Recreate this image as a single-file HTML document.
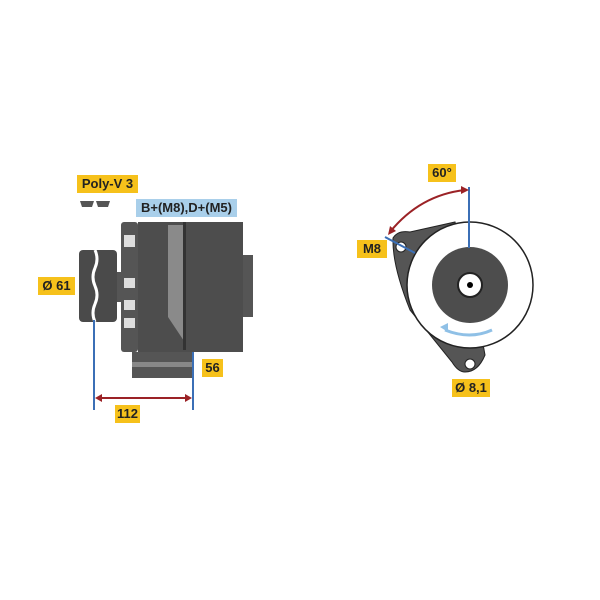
<!DOCTYPE html>
<html><head><style>
body{margin:0;background:#fff;}
.l{position:absolute;background:#f6c11b;font:bold 13px "Liberation Sans",sans-serif;color:#222;line-height:18px;text-align:center;}
</style></head><body>
<div style="position:relative;width:600px;height:600px;overflow:hidden">
<svg width="600" height="600" style="position:absolute;left:0;top:0">
<!-- pulley icons -->
<path d="M80,201 h14 l-2,6 h-10z M96,201 h14 l-2,6 h-10z" fill="#555"/>
<!-- pulley -->
<rect x="79" y="250" width="38" height="72" rx="4" fill="#4a4a4a"/>
<rect x="117" y="272" width="6" height="30" fill="#555"/>
<path d="M95,250 q4,9 0,18 q-4,9 0,18 q4,9 0,18 q-4,9 0,18" stroke="#fff" stroke-width="3" fill="none"/>
<!-- fan ribs -->
<rect x="121" y="222" width="17" height="130" rx="3" fill="#555"/>
<g fill="#ddd"><rect x="124" y="235" width="11" height="12"/><rect x="124" y="278" width="11" height="10"/><rect x="124" y="300" width="11" height="10"/><rect x="124" y="318" width="11" height="10"/></g>
<!-- body -->
<rect x="138" y="222" width="105" height="130" fill="#4d4d4d"/>
<path d="M168,225 h15 v120 h-15 z" fill="#8a8a8a"/>
<path d="M138,222 h30 v95 l22,33 v2 h-52z" fill="#4d4d4d"/>
<rect x="183" y="222" width="3" height="128" fill="#333"/>
<rect x="243" y="255" width="10" height="62" fill="#555"/>
<rect x="132" y="352" width="61" height="26" fill="#555"/>
<rect x="132" y="362" width="61" height="5" fill="#888"/>
<!-- dims -->
<line x1="94" y1="320" x2="94" y2="410" stroke="#3b6fb6" stroke-width="2"/>
<line x1="193" y1="352" x2="193" y2="410" stroke="#3b6fb6" stroke-width="2"/>
<line x1="98" y1="398" x2="189" y2="398" stroke="#9b2226" stroke-width="2"/>
<path d="M95,398 l7,-4 v8z M192,398 l-7,-4 v8z" fill="#9b2226"/>
<!-- right view -->
<path d="M393,238 Q398,230 410,232 L455,222 L475,300 L485,355 Q478,372 465,372 Q458,372 452,362 L410,310 Q392,265 393,238z" fill="#555" stroke="#222"/>
<circle cx="470" cy="285" r="63" fill="#fff" stroke="#222" stroke-width="1.5"/>
<circle cx="470" cy="285" r="38" fill="#4d4d4d"/>
<circle cx="470" cy="285" r="12" fill="#fff" stroke="#222" stroke-width="2"/>
<circle cx="470" cy="285" r="3" fill="#000"/>
<circle cx="401" cy="247" r="5" fill="#fff" stroke="#222"/>
<circle cx="470" cy="364" r="5" fill="#fff" stroke="#222"/>
<line x1="469" y1="187" x2="469" y2="248" stroke="#3b6fb6" stroke-width="2"/>
<line x1="385" y1="237" x2="415" y2="253" stroke="#3b6fb6" stroke-width="2"/>
<path d="M465,190 Q420,195 390,232" stroke="#9b2226" stroke-width="2" fill="none"/>
<path d="M469,190 l-8,-4 v8z M388,235 l2,-9 6,5z" fill="#9b2226"/>
<path d="M492,330 Q470,340 445,330" stroke="#8fc0e6" stroke-width="3" fill="none"/>
<path d="M440,327 l8,-4 v9z" fill="#8fc0e6"/>
</svg>
<div class="l" style="left:77px;top:175px;width:61px">Poly-V 3</div>
<div class="l" style="left:136px;top:199px;width:101px;background:#a9cfea">B+(M8),D+(M5)</div>
<div class="l" style="left:38px;top:277px;width:37px">Ø 61</div>
<div class="l" style="left:202px;top:359px;width:21px">56</div>
<div class="l" style="left:115px;top:405px;width:25px">112</div>
<div class="l" style="left:428px;top:164px;width:28px">60°</div>
<div class="l" style="left:357px;top:240px;width:30px">M8</div>
<div class="l" style="left:452px;top:379px;width:38px">Ø 8,1</div>
</div>
</body></html>
